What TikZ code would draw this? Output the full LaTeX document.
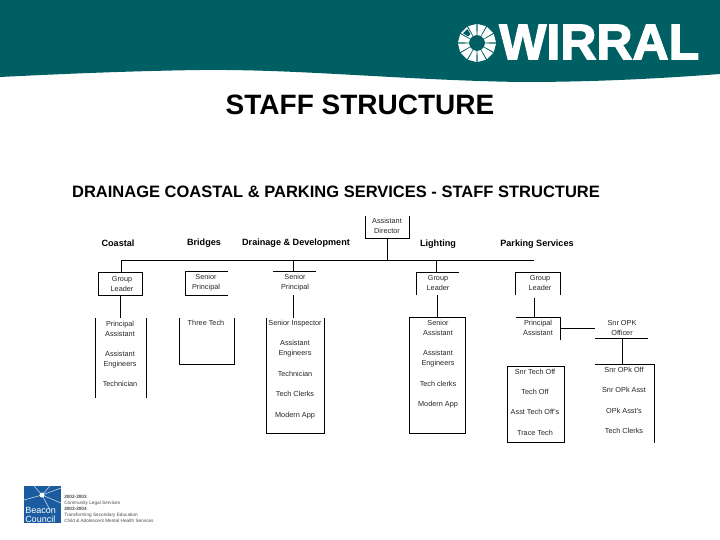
\documentclass[tikz,border=0pt]{standalone}
\usepackage{fontspec}
\setmainfont{Liberation Sans}
\newfontfamily\wirralfont[FakeBold=2.5]{Liberation Sans Bold}
\definecolor{wirralteal}{HTML}{005F63}
\definecolor{beaconblue}{HTML}{1B5CA0}
\tikzset{
  post/.style={anchor=center,inner sep=0pt,align=center,font=\fontsize{7.3}{10}\selectfont,text=black!85},
  head/.style={anchor=center,inner sep=0pt,font=\fontsize{9.1}{10}\selectfont\bfseries},
  rule/.style={line width=.8pt},
  foot/.style={anchor=west,inner sep=0pt,font=\fontsize{4.7}{5}\selectfont,text=black!70}
}
\begin{document}
\begin{tikzpicture}[x=1pt,y=-1pt,line width=.5pt]
\path[use as bounding box] (0,0) rectangle (720,540);
\fill[white] (0,0) rectangle (720,540);
\fill[wirralteal] (0,0) -- (720,0) -- (720,74) .. controls (640,80) and (580,82) .. (520,82) .. controls (400,80) and (300,69) .. (200,70) .. controls (130,71) and (60,74) .. (0,77) -- cycle;
% wirral emblem
\foreach \a in {15,45,...,345} {
  \fill[white,shift={(477,43)}] (\a-12:8) -- (\a-13:19) -- (\a+13:19) -- (\a+12:8) -- cycle;
}
\fill[wirralteal,shift={(477,43)}] (225-9:11) -- (225-10:17) -- (225+10:17) -- (225+9:11) -- cycle;
\node[anchor=west,inner sep=0pt,text=white,font=\fontsize{50}{50}\wirralfont] (wirral) at (499,42) {WIRRAL};
\node[inner sep=0pt,font=\fontsize{28}{30}\selectfont\bfseries] (title) at (360,105) {STAFF STRUCTURE};
\node[inner sep=0pt,font=\fontsize{16.5}{18}\selectfont\bfseries] (subtitle) at (336,192) {DRAINAGE COASTAL \& PARKING SERVICES - STAFF STRUCTURE};
% headings
\node[head] (coastal) at (118,243) {Coastal};
\node[head] (bridges) at (204,243) {Bridges};
\node[head] (drainage) at (296,243) {Drainage \& Development};
\node[head] (lighting) at (438,244) {Lighting};
\node[head] (parking) at (537,244) {Parking Services};
% director and bus
\node[post] (director) at (387,226) {Assistant\\Director};
\coordinate (dirfoot) at (387,238);
\coordinate (busleft) at (121,260);
\coordinate (busmid) at (387,260);
\coordinate (busright) at (534,260);
\draw[rule] (365,216) -- (365,238) -- (409,238) -- (409,216);
\draw[rule] (busleft) -- (busright);
\draw[rule] (dirfoot) -- (busmid);
% coastal
\node[post] (coastlead) at (122,284) {Group\\Leader};
\node[post] (coastteam) at (120,354) {Principal\\Assistant\\[10pt]Assistant\\Engineers\\[10pt]Technician};
\coordinate (coastin) at (121,272);
\coordinate (coastout) at (120,295);
\coordinate (coastdown) at (120,318);
\draw[rule] (98,272) rectangle (142,295);
\draw[rule] (95.5,318) -- (95.5,398) (146,318) -- (146,398);
\draw[rule] (busleft) -- (coastin);
\draw[rule] (coastout) -- (coastdown);
% bridges
\node[post] (bridgelead) at (206,283) {Senior\\Principal};
\node[post] (bridgeteam) at (206,323) {Three Tech};
\draw[rule] (228,271) -- (185,271) -- (185,295) -- (228,295);
\draw[rule] (179,318) -- (179,364) -- (234,364) -- (234,318);
% drainage
\node[post] (drainlead) at (295,283) {Senior\\Principal};
\node[post] (drainteam) at (295,369.5) {Senior Inspector\\[10.5pt]Assistant\\Engineers\\[10.5pt]Technician\\[10.5pt]Tech Clerks\\[10.5pt]Modern App};
\coordinate (drainin) at (293,271);
\coordinate (drainbus) at (293,260);
\coordinate (drainout) at (293,295);
\coordinate (draindown) at (293,318);
\draw[rule] (273,271) -- (316,271);
\draw[rule] (drainbus) -- (drainin);
\draw[rule] (drainout) -- (draindown);
\draw[rule] (266,318) -- (266,433) -- (324,433) -- (324,318);
% lighting
\node[post] (lightlead) at (438,283) {Group\\Leader};
\node[post] (lightteam) at (438,364) {Senior\\Assistant\\[10.5pt]Assistant\\Engineers\\[10.5pt]Tech clerks\\[10.5pt]Modern App};
\coordinate (lightbus) at (436,260);
\coordinate (lightin) at (436,272);
\coordinate (lightout) at (437,295);
\coordinate (lightdown) at (437,317);
\draw[rule] (459,272) -- (416,272) -- (416,295);
\draw[rule] (lightbus) -- (lightin);
\draw[rule] (lightout) -- (lightdown);
\draw[rule] (409,317) rectangle (465.5,433);
% parking
\node[post] (parklead) at (540,283) {Group\\Leader};
\node[post] (parkasst) at (538,328) {Principal\\Assistant};
\node[post] (parkofficer) at (622,328) {Snr OPK\\Officer};
\node[post] (parktech) at (535,402) {Snr Tech Off\\[10.3pt]Tech Off\\[10.3pt]Asst Tech Off's\\[10.3pt]Trace Tech};
\node[post] (parkopk) at (624,400.5) {Snr OPk Off\\[10.5pt]Snr OPk Asst\\[10.5pt]OPk Asst's\\[10.5pt]Tech Clerks};
\coordinate (parkout) at (534,298);
\coordinate (parkdown) at (534,317);
\coordinate (asstright) at (560,328);
\coordinate (officerleft) at (595,328);
\coordinate (officerfoot) at (622,338);
\coordinate (opktop) at (622,364);
\draw[rule] (515,295) -- (515,272) -- (560,272) -- (560,295);
\draw[rule] (516,317) -- (560,317) -- (560,340);
\draw[rule] (parkout) -- (parkdown);
\draw[rule] (asstright) -- (officerleft);
\draw[rule] (595,338) -- (648,338);
\draw[rule] (officerfoot) -- (opktop);
\draw[rule] (595,364) -- (654,364) -- (654,443);
\draw[rule] (507,366) rectangle (564,442);
% beacon council
\fill[beaconblue] (24,486) rectangle (61,523);
\foreach \x/\y in {24/500,61/488,61/503,34/486,50/486,50/510} {
  \draw[white,line width=.4pt] (42,495) -- (\x,\y);
}
\fill[white] (42,495) circle (2.5);
\node[anchor=south west,inner sep=0pt,align=left,text=white,font=\fontsize{9}{8.5}\selectfont] (beacon) at (25,522.5) {Beacon\\Council};
\node[foot,font=\fontsize{4.7}{5}\selectfont\bfseries] (foota) at (64,497) {2002-2003};
\node[foot] (footb) at (64,503) {Community Legal Services};
\node[foot,font=\fontsize{4.7}{5}\selectfont\bfseries] (footc) at (64,509) {2003-2004};
\node[foot] (footd) at (64,515) {Transforming Secondary Education};
\node[foot] (foote) at (64,521) {Child \& Adolescent Mental Health Services};
\end{tikzpicture}
\end{document}
